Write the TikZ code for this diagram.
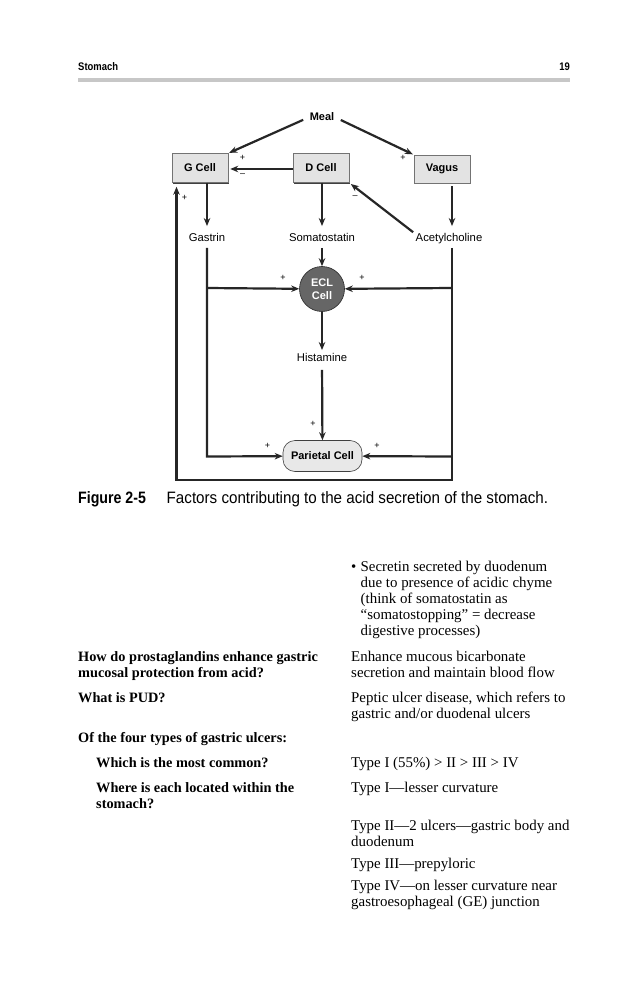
\documentclass[tikz,border=0pt]{standalone}
\usepackage{fontspec}
\setmainfont{Liberation Serif}
\setsansfont{Liberation Sans}
\newfontfamily\condfont[FakeStretch=0.92]{Liberation Sans}
\newfontfamily\tagfont[FakeStretch=0.86]{Liberation Sans}
\usetikzlibrary{arrows.meta, calc, shadows}

\begin{document}
\begin{tikzpicture}[x=1pt, y=-1pt, >={Stealth[length=8pt, width=6.5pt]},
  every node/.style={font=\sffamily\fontsize{11.3}{12}\selectfont, inner sep=0pt},
  cellbox/.style={draw=black!55, line width=0.5pt, fill=black!11, minimum width=56pt, minimum height=29pt,
    font=\sffamily\bfseries\fontsize{11}{12}\selectfont,
    drop shadow={shadow xshift=1.2pt, shadow yshift=-1.2pt, opacity=1, fill=black!75}},
  lbl/.style={text height=7.5pt, text depth=2pt},
  flow/.style={->, line width=2.2pt, draw=black!85},
  sign/.style={font=\sffamily\fontsize{9}{9}\selectfont},
  qtext/.style={font=\rmfamily\bfseries\fontsize{14.3}{16}\selectfont, anchor=base west, align=left},
  atext/.style={font=\rmfamily\fontsize{14.9}{16}\selectfont, anchor=base west, align=left}]
  \useasboundingbox (0,0) rectangle (636,1000);
  \fill[white] (0,0) rectangle (636,1000);

  % running head
  \node[anchor=base west, font=\tagfont\bfseries\fontsize{11}{13}\selectfont] (runhead) at (78,71) {Stomach};
  \node[anchor=base east, font=\tagfont\bfseries\fontsize{11}{13}\selectfont] (pagenum) at (570,71) {19};
  \fill[black!22] (78,78.5) rectangle (570,82.5);

  % cells
  \node[font=\sffamily\bfseries\fontsize{11}{12}\selectfont] (meal) at (322,117) {Meal};
  \node[cellbox] (gcell) at (200,168) {G Cell};
  \node[cellbox] (dcell) at (321,168) {D Cell};
  \node[cellbox, minimum height=28pt] (vagus) at (442,169) {Vagus};
  \node[lbl] (gastrin) at (207,239) {Gastrin};
  \node[lbl] (somato) at (322,239) {Somatostatin};
  \node[lbl] (acetyl) at (449,239) {Acetylcholine};
  \node[circle, draw=black!85, line width=0.6pt, fill=black!60, minimum size=45pt, text=white, align=center,
    font=\sffamily\bfseries\fontsize{11}{13.5}\selectfont] (ecl) at (322,289) {ECL\\Cell};
  \node[lbl] (hist) at (322,359) {Histamine};
  \node[draw=black!75, line width=0.6pt, fill=black!9, rounded corners=12pt, minimum width=79pt, minimum height=31pt,
    font=\sffamily\bfseries\fontsize{11}{12}\selectfont] (parietal) at (322.5,456) {Parietal Cell};

  \coordinate (gjoin) at (207,288);
  \coordinate (gbot) at (207,456.5);
  \coordinate (ajoin) at (452,288);
  \coordinate (abot) at (452,456.5);
  \coordinate (fbr) at (452,480);
  \coordinate (fbl) at (176.5,480);

  % connectors
  \draw[flow, shorten <=7pt, shorten >=1pt] (meal.west) -- (gcell.north east);
  \draw[flow, shorten <=7pt, shorten >=1pt] (meal.east) -- (vagus.north west);
  \draw[flow, shorten >=2pt] (dcell.west |- 0,169) -- (gcell.east |- 0,169);
  \draw[flow, shorten >=8pt] (gcell.south -| gjoin) -- (gastrin.north);
  \draw[flow, shorten >=8pt] (dcell.south -| somato) -- (somato.north);
  \draw[flow, shorten <=3pt, shorten >=8pt] (vagus.south -| ajoin) -- (acetyl.north -| ajoin);
  \draw[flow, shorten <=3pt, shorten >=2pt] (acetyl.north west) -- (dcell.south east);
  \draw[flow, shorten <=4pt] (somato) -- (ecl);
  \draw[flow, shorten <=4pt] (gastrin.south) -- (gbot) -- (parietal);
  \draw[flow] (gjoin) -- (ecl);
  \draw[flow, shorten <=4pt] (acetyl.south -| ajoin) -- (fbr) -- (fbl) -- ($(fbl |- gcell.south)+(0,4)$);
  \draw[flow] (ajoin) -- (ecl);
  \draw[flow] (abot) -- (parietal);
  \draw[flow, shorten >=4pt] (ecl) -- (hist);
  \draw[flow, shorten <=6pt] (hist) -- (parietal);

  % signs
  \foreach \x/\y/\s [count=\i] in {242.5/157.5/+, 242.5/175/--, 403/157.5/+, 184.5/198/+, 355/197.5/--,
      283/278/+, 362/278/+, 313/423.5/+, 267.5/446/+, 377/446/+}
    \node[sign] (sign\i) at (\x,\y) {\s};

  % caption
  \node[anchor=base west, font=\tagfont\bfseries\fontsize{16.5}{18}\selectfont] (figtag) at (78,503) {Figure 2-5};
  \node[anchor=base west, font=\condfont\fontsize{16.5}{18}\selectfont] (figcap) at (166.5,503)
    {Factors contributing to the acid secretion of the stomach.};

  % questions and answers (anchored at the last line)
  \node[atext] (bul) at (351,571) {\textbullet};
  \node[atext] (a0) at (360.5,635) {Secretin secreted by duodenum\\due to presence of acidic chyme\\(think of somatostatin as\\\textquotedblleft somatostopping\textquotedblright{} = decrease\\digestive processes)};
  \node[qtext] (q1) at (78,677) {How do prostaglandins enhance gastric\\mucosal protection from acid?};
  \node[atext] (a1) at (351,677) {Enhance mucous bicarbonate\\secretion and maintain blood flow};
  \node[qtext] (q2) at (78,702) {What is PUD?};
  \node[atext] (a2) at (351,718) {Peptic ulcer disease, which refers to\\gastric and/or duodenal ulcers};
  \node[qtext] (q3) at (78,742) {Of the four types of gastric ulcers:};
  \node[qtext] (q4) at (96,767) {Which is the most common?};
  \node[atext] (a4) at (351,767) {Type I (55\%) > II > III > IV};
  \node[qtext] (q5) at (96,808) {Where is each located within the\\stomach?};
  \node[atext] (a5) at (351,792.5) {Type I---lesser curvature};
  \node[atext] (a6) at (351,846) {Type II---2 ulcers---gastric body and\\duodenum};
  \node[atext] (a7) at (351,868.5) {Type III---prepyloric};
  \node[atext] (a8) at (351,906) {Type IV---on lesser curvature near\\gastroesophageal (GE) junction};
\end{tikzpicture}
\end{document}
